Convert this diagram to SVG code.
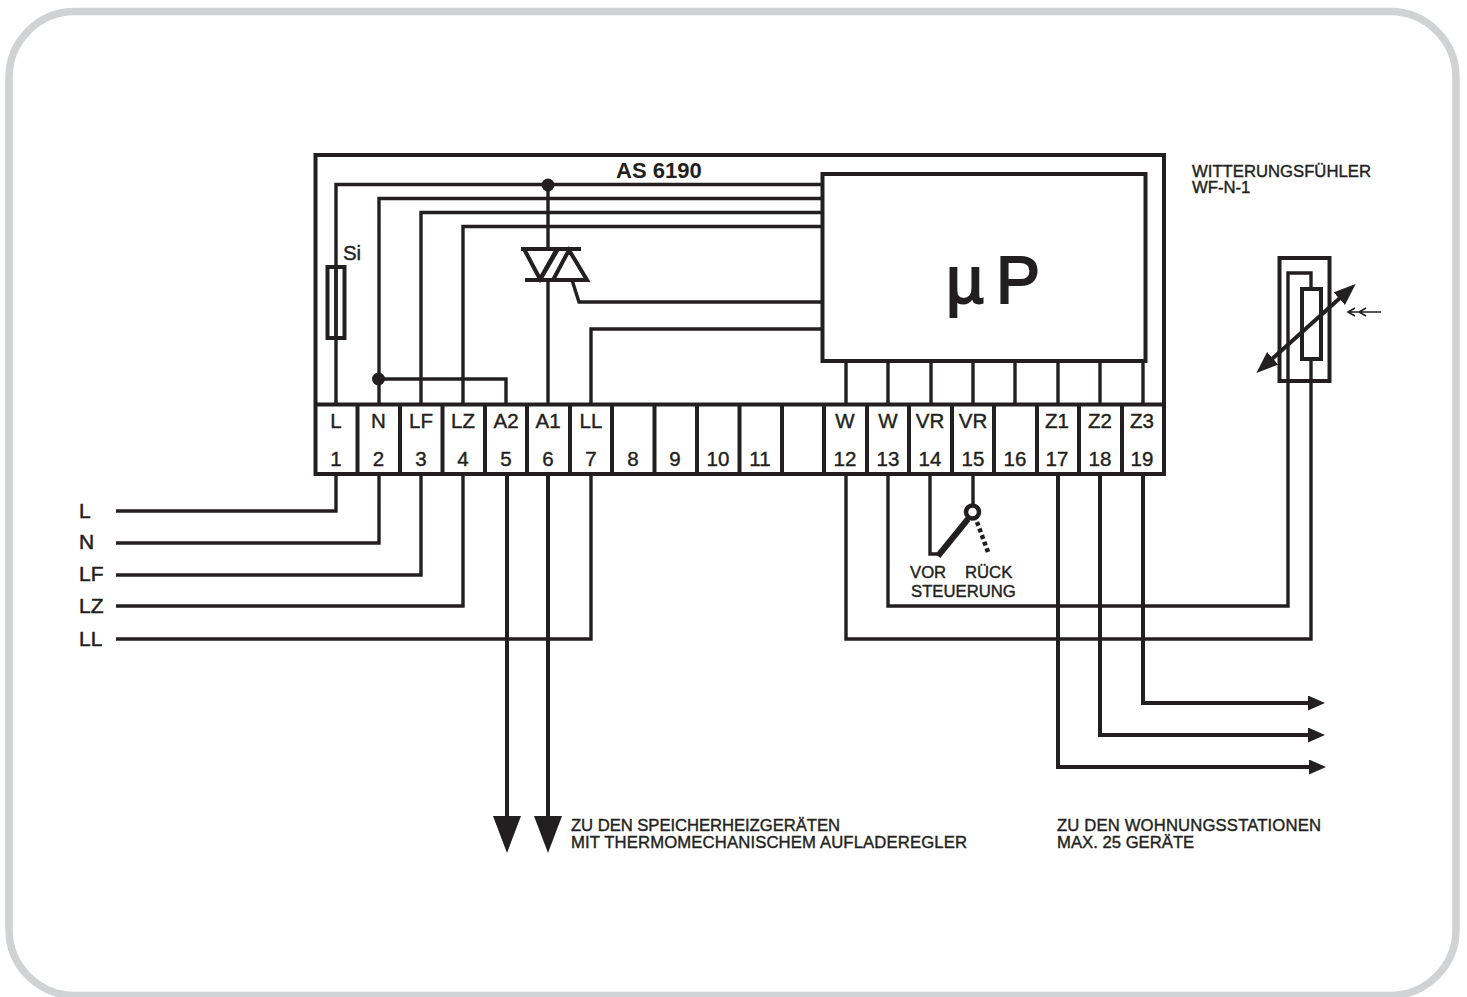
<svg xmlns="http://www.w3.org/2000/svg" width="1467" height="997" viewBox="0 0 1467 997">
<style>
.w{fill:none;stroke:#231f20;stroke-width:3.4;stroke-linejoin:miter}
.b{fill:none;stroke:#231f20;stroke-width:4}
.f{fill:#231f20;stroke:none}
text{font-family:"Liberation Sans",Arial,sans-serif;fill:#231f20}
.t{font-size:20.500px;text-anchor:middle;stroke:#231f20;stroke-width:.4}
.s{font-size:16.700px;stroke:#231f20;stroke-width:.4}
.l{font-size:21px;stroke:#231f20;stroke-width:.5}
.u{font-size:66px;stroke:#231f20;stroke-width:2}
</style>
<defs>
<marker id="ar" markerUnits="userSpaceOnUse" markerWidth="18" markerHeight="16" refX="0" refY="7.500" orient="auto"><path d="M0 0L17 7.500L0 15Z" fill="#231f20"/></marker>
<marker id="ad" markerUnits="userSpaceOnUse" markerWidth="38" markerHeight="30" refX="0" refY="14" orient="auto"><path d="M0 0L37 14L0 28Z" fill="#231f20"/></marker>
<marker id="ds" markerUnits="userSpaceOnUse" markerWidth="24" markerHeight="20" refX="1" refY="8.500" orient="auto-start-reverse"><path d="M0 0L22 8.500L0 17Z" fill="#231f20"/></marker>
</defs>
<rect id="frame" x="9" y="11.500" width="1447" height="984" rx="66" fill="#fff" stroke="#d1d2d4" stroke-width="7.500"/>
<g id="connectors">
<path class="w" d="M336 404V184.500H822M379 404V198.500H822M421 404V212.500H822M463 404V226.500H822"/>
<path class="w" d="M379 379H506V404"/>
<path class="w" d="M548 185V249M548 280V404"/>
<path class="w" d="M572 280L579 302H822M591 404V329H822"/>
<path class="w" d="M846 361V404M888 361V404M931 361V404M973 361V404M1015 361V404M1058 361V404M1100 361V404M1143 361V404"/>
<path class="w" d="M336 474V511H116M379 474V543H116M421 474V575H116M463 474V606H116M591 474V639H116"/>
<path class="b" marker-end="url(#ad)" d="M507 474V816"/>
<path class="b" marker-end="url(#ad)" d="M548 474V816"/>
<path class="w" d="M930 474V554H939M973 474V506"/>
<path class="w" d="M888 474V606H1288V273H1311V289M1311 359V639H846V474"/>
<path class="b" marker-end="url(#ar)" d="M1143 474V703H1308"/>
<path class="b" marker-end="url(#ar)" d="M1100 474V735H1308"/>
<path class="b" marker-end="url(#ar)" d="M1058 474V767H1309"/>
</g>
<g id="housing"><rect class="b" x="315.500" y="155" width="848.500" height="319"/><path class="b" d="M315 404.500H1164"/></g>
<g id="terminals">
<path class="b" d="M357.500 404V474M400 404V474M442.500 404V474M485 404V474M527 404V474M570 404V474M612 404V474M654.500 404V474M697 404V474M739.500 404V474M782 404V474M824 404V474M867 404V474M909 404V474M952 404V474M994 404V474M1037 404V474M1079 404V474M1122 404V474"/>
<text class="t" x="336" y="428">L</text><text class="t" x="378.500" y="428">N</text><text class="t" x="421" y="428">LF</text><text class="t" x="463" y="428">LZ</text><text class="t" x="506" y="428">A2</text><text class="t" x="548" y="428">A1</text><text class="t" x="591" y="428">LL</text><text class="t" x="845" y="428">W</text><text class="t" x="888" y="428">W</text><text class="t" x="930" y="428">VR</text><text class="t" x="973" y="428">VR</text><text class="t" x="1057" y="428">Z1</text><text class="t" x="1100" y="428">Z2</text><text class="t" x="1142" y="428">Z3</text>
<text class="t" x="336" y="466">1</text><text class="t" x="378.500" y="466">2</text><text class="t" x="421" y="466">3</text><text class="t" x="463" y="466">4</text><text class="t" x="506" y="466">5</text><text class="t" x="548" y="466">6</text><text class="t" x="591" y="466">7</text><text class="t" x="633" y="466">8</text><text class="t" x="675" y="466">9</text><text class="t" x="718" y="466">10</text><text class="t" x="760" y="466">11</text><text class="t" x="845" y="466">12</text><text class="t" x="888" y="466">13</text><text class="t" x="930" y="466">14</text><text class="t" x="973" y="466">15</text><text class="t" x="1015" y="466">16</text><text class="t" x="1057" y="466">17</text><text class="t" x="1100" y="466">18</text><text class="t" x="1142" y="466">19</text>
</g>
<g id="microprocessor"><rect class="b" x="822.500" y="174" width="323" height="187" fill="#fff"/><text class="u" x="946" y="303">µ</text><text class="u" x="996" y="303">P</text></g>
<g id="title"><text x="616" y="178" font-size="22" font-weight="bold">AS 6190</text></g>
<g id="fuse"><rect class="b" x="327.500" y="267" width="17" height="71" fill="#fff"/><path class="w" d="M336 267V338"/><text class="t" x="352" y="260">Si</text></g>
<g id="triac"><path class="b" d="M521 249H581M525 280H587M524 249L540 279L557 249M540 280L558 249M569 250L587 280H553Z"/></g>
<g id="junctions"><circle class="f" cx="548" cy="185" r="6.500"/><circle class="f" cx="378.500" cy="379" r="6.500"/></g>
<g id="switch"><path fill="none" stroke="#231f20" stroke-width="6" d="M938 556L968 519"/><circle cx="972.500" cy="512" r="6.500" fill="#fff" stroke="#231f20" stroke-width="4.500"/><path fill="none" stroke="#231f20" stroke-width="4.500" stroke-dasharray="4 3" d="M977 522L988 552"/></g>
<g id="sensor"><rect class="b" x="1279.500" y="258" width="50" height="123"/><rect class="b" x="1302" y="289" width="19" height="70" fill="#fff"/>
<path d="M1272 359L1340 298" stroke="#231f20" stroke-width="4" marker-start="url(#ds)" marker-end="url(#ds)"/>
<path fill="none" stroke="#231f20" stroke-width="1.500" d="M1381 312H1348M1355 308L1348 312L1355 316M1366 308L1359 312L1366 316"/></g>
<g id="labels">
<text class="l" x="79" y="517.500">L</text><text class="l" x="79" y="549">N</text><text class="l" x="79" y="581">LF</text><text class="l" x="79" y="613">LZ</text><text class="l" x="79" y="645.500">LL</text>
<text class="s" x="1192" y="176.500">WITTERUNGSFÜHLER</text><text class="s" x="1192" y="193">WF-N-1</text>
<text class="s" x="910" y="578">VOR</text><text class="s" x="965" y="578">RÜCK</text><text class="s" x="911" y="597">STEUERUNG</text>
<text class="s" x="571" y="831" textLength="269" lengthAdjust="spacing">ZU DEN SPEICHERHEIZGERÄTEN</text><text class="s" x="571" y="847.500" textLength="396" lengthAdjust="spacing">MIT THERMOMECHANISCHEM AUFLADEREGLER</text>
<text class="s" x="1057" y="831" textLength="264" lengthAdjust="spacing">ZU DEN WOHNUNGSSTATIONEN</text><text class="s" x="1057" y="847.500">MAX. 25 GERÄTE</text>
</g>
</svg>
